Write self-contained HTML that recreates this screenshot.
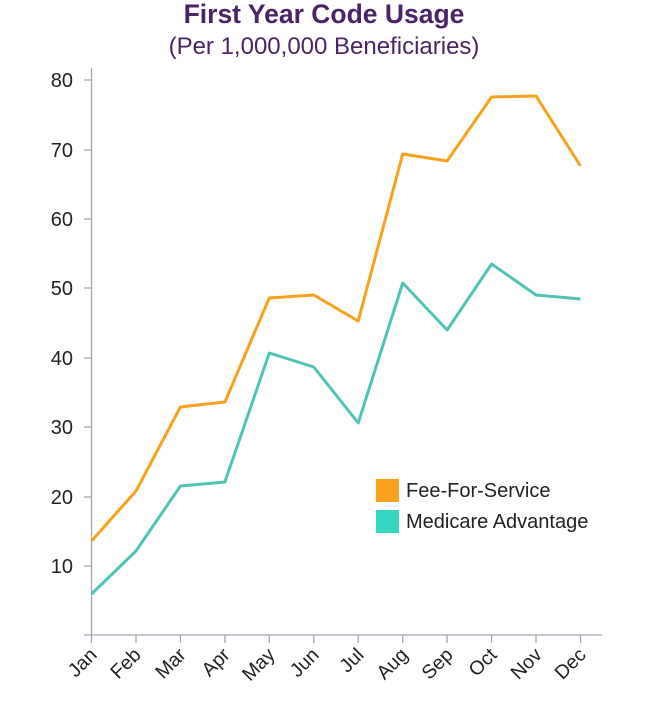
<!DOCTYPE html>
<html><head><meta charset="utf-8"><style>body{margin:0;background:#fff}svg{display:block;font-family:"Liberation Sans",Arial,sans-serif}</style></head>
<body>
<svg width="653" height="724" viewBox="0 0 653 724">
<text x="324" y="23" text-anchor="middle" font-size="26.5" font-weight="bold" fill="#4b2466">First Year Code Usage</text>
<text x="324" y="54" text-anchor="middle" font-size="24" fill="#4b2466">(Per 1,000,000 Beneficiaries)</text>
<g stroke="#a8a4b4" stroke-width="1.3">
<line x1="91.5" y1="68" x2="91.5" y2="635"/>
<line x1="84" y1="635" x2="602" y2="635"/>
<line x1="84" y1="566" x2="91.5" y2="566"/>
<line x1="84" y1="497" x2="91.5" y2="497"/>
<line x1="84" y1="427" x2="91.5" y2="427"/>
<line x1="84" y1="358" x2="91.5" y2="358"/>
<line x1="84" y1="288" x2="91.5" y2="288"/>
<line x1="84" y1="219" x2="91.5" y2="219"/>
<line x1="84" y1="150" x2="91.5" y2="150"/>
<line x1="84" y1="80" x2="91.5" y2="80"/>
<line x1="91.5" y1="635" x2="91.5" y2="643"/><line x1="136" y1="635" x2="136" y2="643"/><line x1="180.4" y1="635" x2="180.4" y2="643"/><line x1="224.9" y1="635" x2="224.9" y2="643"/><line x1="269.3" y1="635" x2="269.3" y2="643"/><line x1="313.8" y1="635" x2="313.8" y2="643"/><line x1="358.2" y1="635" x2="358.2" y2="643"/><line x1="402.7" y1="635" x2="402.7" y2="643"/><line x1="447.1" y1="635" x2="447.1" y2="643"/><line x1="491.6" y1="635" x2="491.6" y2="643"/><line x1="536" y1="635" x2="536" y2="643"/><line x1="580.5" y1="635" x2="580.5" y2="643"/>
</g>
<g font-size="20" fill="#222" text-anchor="end">
<text x="73" y="573">10</text><text x="73" y="504">20</text><text x="73" y="434">30</text><text x="73" y="365">40</text><text x="73" y="295">50</text><text x="73" y="226">60</text><text x="73" y="157">70</text><text x="73" y="87">80</text>
</g>
<g font-size="19.5" fill="#222" text-anchor="end">
<text transform="translate(98,656) rotate(-45)">Jan</text>
<text transform="translate(142,656) rotate(-45)">Feb</text>
<text transform="translate(187,656) rotate(-45)">Mar</text>
<text transform="translate(231,656) rotate(-45)">Apr</text>
<text transform="translate(276,656) rotate(-45)">May</text>
<text transform="translate(320,656) rotate(-45)">Jun</text>
<text transform="translate(365,656) rotate(-45)">Jul</text>
<text transform="translate(409,656) rotate(-45)">Aug</text>
<text transform="translate(454,656) rotate(-45)">Sep</text>
<text transform="translate(498,656) rotate(-45)">Oct</text>
<text transform="translate(543,656) rotate(-45)">Nov</text>
<text transform="translate(587,656) rotate(-45)">Dec</text>
</g>
<polyline fill="none" stroke="#f9a11b" stroke-width="3" stroke-linejoin="round" points="91.5,541 136,491 180.4,407 224.9,402 269.3,298 313.8,295 358.2,321 402.7,154 447.1,161 491.6,97 536,96 580.5,166"/>
<polyline fill="none" stroke="#4fc4b6" stroke-width="3" stroke-linejoin="round" points="91.5,594 136,551 180.4,486 224.9,482 269.3,353 313.8,367 358.2,423 402.7,283 447.1,330 491.6,264 536,295 580.5,299"/>
<rect x="376" y="479" width="23" height="23" fill="#f9a11b"/>
<rect x="376" y="510" width="23" height="23" fill="#35d7c3"/>
<text x="406" y="497" font-size="20" fill="#222">Fee-For-Service</text>
<text x="406" y="528" font-size="20" fill="#222">Medicare Advantage</text>
</svg>
</body></html>
